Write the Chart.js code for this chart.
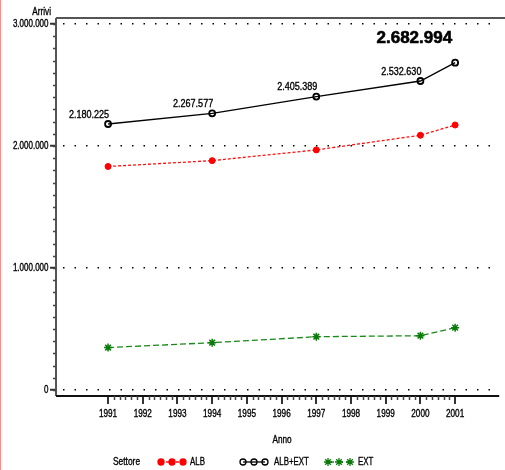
<!DOCTYPE html>
<html>
<head>
<meta charset="utf-8">
<script src="https://cdn.jsdelivr.net/npm/chart.js@4/dist/chart.umd.min.js"></script>
<style>
  html, body { margin: 0; padding: 0; background: #fff; }
  #wrap { position: relative; width: 505px; height: 470px; }
  #wrap::before { content: ""; position: absolute; left: 0; top: 0; width: 1px; height: 470px; background: #ff8a8a; }
</style>
</head>
<body>
<div id="wrap"><canvas id="chart" width="505" height="470"></canvas></div>
<script>
const anni = [1991, 1994, 1997, 2000, 2001];
const alb = [1832000, 1880000, 1968000, 2088000, 2172000];
const albExt = [2180225, 2267577, 2405389, 2532630, 2682994];
const ext = [348000, 388000, 437000, 445000, 511000];
const yearTicks = [1991, 1992, 1993, 1994, 1995, 1996, 1997, 1998, 1999, 2000, 2001];
const yTicks = [0, 1000000, 2000000, 3000000];

const SANS = '"Liberation Sans", Arial, sans-serif';
const fmt = (v) => String(Math.round(v)).replace(/\B(?=(\d{3})+(?!\d))/g, ".");
const pts = (vals) => anni.map((a, i) => ({ x: a, y: vals[i] }));

// condensed text: the SAS fonts are narrow and a bit heavy, so squeeze + thin stroke
function txt(ctx, s, x, y, align, size, sx = 0.8, bold = false) {
  ctx.save();
  ctx.font = (bold ? "bold " : "") + size + "px " + SANS;
  ctx.textAlign = align;
  ctx.textBaseline = "middle";
  ctx.fillStyle = "#000";
  ctx.strokeStyle = "#000";
  ctx.lineWidth = bold ? 0.6 : 0.35;
  ctx.translate(x, y);
  ctx.scale(sx, 1);
  ctx.fillText(s, 0, 0);
  ctx.strokeText(s, 0, 0);
  ctx.restore();
}

const extras = {
  id: "extras",
  beforeDatasetsDraw(chart) {
    const { ctx, chartArea: a, scales: { x, y } } = chart;
    ctx.save();
    ctx.strokeStyle = "#555";
    ctx.lineWidth = 2;
    ctx.beginPath();
    ctx.moveTo(a.left, a.top); ctx.lineTo(505, a.top);
    ctx.moveTo(a.left, a.top); ctx.lineTo(a.left, a.bottom);
    ctx.stroke();
    ctx.strokeStyle = "#111";
    ctx.beginPath();
    ctx.moveTo(a.left, a.bottom); ctx.lineTo(a.right, a.bottom);
    ctx.stroke();
    // minor ticks
    ctx.strokeStyle = "#444";
    ctx.lineWidth = 1.5;
    ctx.beginPath();
    for (let v = 0; v <= 3000000; v += 100000) {
      const py = Math.round(y.getPixelForValue(v)) + 0.5;
      ctx.moveTo(a.left - 3, py); ctx.lineTo(a.left, py);
    }
    for (let k = 0; k <= 60; k++) {
      if (k % 6 === 0) continue;
      const px = Math.round(x.getPixelForValue(1991 + k / 6)) + 0.5;
      ctx.moveTo(px, a.bottom); ctx.lineTo(px, a.bottom + 4);
    }
    ctx.stroke();
    ctx.restore();

    y.ticks.forEach((t) => txt(ctx, fmt(t.value), 48.5, y.getPixelForValue(t.value), "right", 10, 0.8));
    x.ticks.forEach((t) => txt(ctx, String(t.value), x.getPixelForValue(t.value), 414.5, "center", 10.5, 0.78));
  },
  afterDatasetsDraw(chart) {
    const { ctx, scales: { x, y } } = chart;
    for (let i = 0; i < anni.length - 1; i++) {
      const px = x.getPixelForValue(anni[i]);
      const py = y.getPixelForValue(albExt[i]);
      txt(ctx, fmt(albExt[i]), px + 1, py - 9, "right", 10.5, 0.86);
    }
    const last = anni.length - 1;
    txt(ctx, fmt(albExt[last]), x.getPixelForValue(anni[last]) - 3, y.getPixelForValue(albExt[last]) - 24, "right", 17, 1, true);

    txt(ctx, "Arrivi", 51, 12.5, "right", 10.5, 0.78);
    txt(ctx, "Anno", 282, 440, "center", 10.5, 0.78);

    // legend
    const ly = 462;
    txt(ctx, "Settore", 113, ly, "left", 10.5, 0.8);
    chart.data.datasets.forEach((ds, i) => {
      const x0 = [161, 243, 328][i];
      ctx.save();
      ctx.strokeStyle = ds.borderColor;
      ctx.lineWidth = 1.3;
      ctx.setLineDash(ds.borderDash || []);
      ctx.beginPath();
      ctx.moveTo(x0, ly); ctx.lineTo(x0 + 22, ly);
      ctx.stroke();
      ctx.setLineDash([]);
      ctx.fillStyle = ds.pointBackgroundColor;
      ctx.strokeStyle = ds.pointBorderColor;
      for (let k = 0; k < 3; k++) {
        Chart.helpers.drawPoint(ctx, {
          pointStyle: ds.pointStyle, radius: ds.pointRadius, rotation: 0,
          borderWidth: ds.pointBorderWidth
        }, x0 + k * 11, ly);
      }
      ctx.restore();
      txt(ctx, ds.label, [190, 274, 358][i], ly, "left", 10.5, 0.75);
    });
  }
};

new Chart(document.getElementById("chart"), {
  type: "line",
  data: {
    datasets: [
      {
        label: "ALB", data: pts(alb), borderColor: "#ff1010", borderWidth: 1.3,
        borderDash: [3, 2], pointStyle: "circle", pointRadius: 3,
        pointBackgroundColor: "#ff0000", pointBorderColor: "#ff0000", pointBorderWidth: 1
      },
      {
        label: "ALB+EXT", data: pts(albExt), borderColor: "#000", borderWidth: 1.3,
        pointStyle: "circle", pointRadius: 3, pointBackgroundColor: "rgba(0,0,0,0)",
        pointBorderColor: "#000", pointBorderWidth: 1.8
      },
      {
        label: "EXT", data: pts(ext), borderColor: "#178a17", borderWidth: 1.3,
        borderDash: [6, 3], pointStyle: "star", pointRadius: 4,
        pointBackgroundColor: "#0a7a0a", pointBorderColor: "#0a7a0a", pointBorderWidth: 1.5
      }
    ]
  },
  options: {
    responsive: false,
    animation: false,
    layout: { padding: { top: 18, right: 5, left: 0, bottom: 0 } },
    plugins: { legend: { display: false }, tooltip: { enabled: false } },
    scales: {
      x: {
        type: "linear", min: 1989.5, max: 2002.27,
        afterBuildTicks: (s) => { s.ticks = yearTicks.map((v) => ({ value: v })); },
        afterFit: (s) => { s.height = 74; },
        border: { display: false },
        grid: { drawOnChartArea: false, drawTicks: true, tickLength: 8, color: "#333", lineWidth: 2 },
        ticks: { display: false }
      },
      y: {
        min: -49000, max: 3049000,
        afterBuildTicks: (s) => { s.ticks = yTicks.map((v) => ({ value: v })); },
        afterFit: (s) => { s.width = 56; },
        border: { display: false, dash: [1.5, 10], dashOffset: 4.5 },
        grid: { color: "#000", lineWidth: 1.5, tickLength: 6, tickColor: "#333", tickWidth: 2, tickBorderDash: [] },
        ticks: { display: false }
      }
    }
  },
  plugins: [extras]
});
</script>
</body>
</html>
